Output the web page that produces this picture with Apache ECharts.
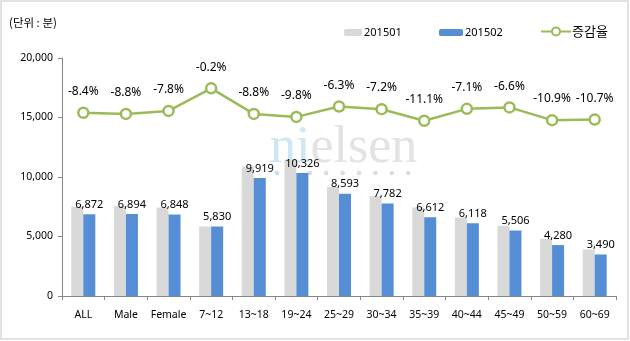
<!DOCTYPE html>
<html>
<head>
<meta charset="utf-8">
<script src="https://cdn.jsdelivr.net/npm/echarts@6/dist/echarts.min.js"></script>
<style>html,body{margin:0;padding:0;background:#fff;}#c{width:630px;height:341px;}</style>
</head>
<body>
<div id="c"></div>
<script>
var categories = ['ALL','Male','Female','7~12','13~18','19~24','25~29','30~34','35~39','40~44','45~49','50~59','60~69'];
var s201501 = [7500, 7560, 7430, 5840, 10880, 11450, 9170, 8390, 7440, 6590, 5900, 4800, 3910];
var s201502 = [6872, 6894, 6848, 5830, 9919, 10326, 8593, 7782, 6612, 6118, 5506, 4280, 3490];
var growth = [-8.4, -8.8, -7.8, -0.2, -8.8, -9.8, -6.3, -7.2, -11.1, -7.1, -6.6, -10.9, -10.7];
var yTicks = [0, 5000, 10000, 15000, 20000];

var FONT = '"Noto Sans", "Noto Sans CJK KR", sans-serif';
var KFONT = '"Noto Sans CJK KR", "Noto Sans", sans-serif';

var chart = echarts.init(document.getElementById('c'), null, {renderer: 'canvas'});
var dots = [];
for (var i = 0; i < 9; i++) {
  dots.push({type: 'circle', z: 0, silent: true, shape: {cx: 277 + i * 16.4, cy: 173, r: 2.3}, style: {fill: i === 0 ? '#c9e0ec' : '#dcdcdc'}});
}
chart.setOption({
  animation: false,
  textStyle: {fontFamily: FONT},
  graphic: [
    {type: 'rect', z: 0, silent: true, shape: {x: 1, y: 1, width: 627, height: 338}, style: {fill: 'none', stroke: '#d9d9d9', lineWidth: 1.5}},
    {type: 'text', z: 0, silent: true, left: 9, top: 17, style: {text: '(단위 : 분)', font: '11.5px ' + KFONT, fill: '#000'}},
    {type: 'text', z: 0, silent: true, left: 270, top: 122, style: {rich: {a: {fill: '#d0e6f2'}, b: {fill: '#e3e3e3'}}, text: '{a|ni}{b|elsen}', font: '52px "Liberation Serif", serif'}},
  ].concat(dots),
  legend: [
    {data: ['201501'], left: 339, top: 22, itemWidth: 18, itemHeight: 7, itemGap: 0, textStyle: {fontSize: 11, fontFamily: FONT, color: '#000', padding: [0,0,0,-3]}},
    {data: ['201502'], left: 434, top: 22, itemWidth: 24, itemHeight: 7, textStyle: {fontSize: 11, fontFamily: FONT, color: '#000', padding: [0,0,0,-3]}},
    {data: ['증감율'], left: 535, top: 20, itemWidth: 30, itemHeight: 10, textStyle: {fontSize: 13, fontFamily: KFONT, color: '#000', padding: [0,0,0,-4]}}
  ],
  grid: {left: 62, right: 14, top: 58, bottom: 45, containLabel: false},
  xAxis: {
    type: 'category', data: categories,
    axisLine: {lineStyle: {color: '#868686', width: 1}},
    axisTick: {show: true, length: 4, inside: false, alignWithLabel: false, lineStyle: {color: '#868686'}},
    axisLabel: {fontSize: 10.5, color: '#000', margin: 14, interval: 0, fontFamily: FONT}
  },
  yAxis: [
    {
      type: 'value', min: 0, max: 20000, interval: 5000,
      axisLine: {show: true, lineStyle: {color: '#868686'}},
      axisTick: {show: true, length: 4, lineStyle: {color: '#868686'}},
      splitLine: {show: false},
      axisLabel: {fontSize: 10.5, color: '#000', margin: 9, fontFamily: FONT,
        formatter: function (v) { return yTicks.indexOf(v) >= 0 ? v.toLocaleString('en-US') : ''; }}
    },
    {type: 'value', min: -70, max: 10, show: false, splitLine: {show: false}}
  ],
  series: [
    {name: '201501', type: 'bar', data: s201501, barWidth: 12, barGap: '0%', itemStyle: {color: '#d9d9d9'}, z: 2},
    {name: '201502', type: 'bar', data: s201502, barWidth: 12, barGap: '0%', itemStyle: {color: '#558ed5'}, z: 2,
      label: {show: true, position: 'top', distance: 4, fontSize: 11, color: '#000', fontFamily: FONT,
        formatter: function (p) { return p.value.toLocaleString('en-US'); }}},
    {name: '증감율', type: 'line', yAxisIndex: 1, data: growth, z: 3,
      lineStyle: {color: '#9bbb59', width: 2.5},
      itemStyle: {color: '#fff', borderColor: '#9bbb59', borderWidth: 2.5},
      symbol: 'circle', symbolSize: 10, showAllSymbol: true,
      label: {show: true, position: 'top', distance: 9, fontSize: 12, color: '#000', fontFamily: FONT,
        formatter: function (p) { return p.value.toFixed(1) + '%'; }}}
  ]
});
</script>
</body>
</html>
